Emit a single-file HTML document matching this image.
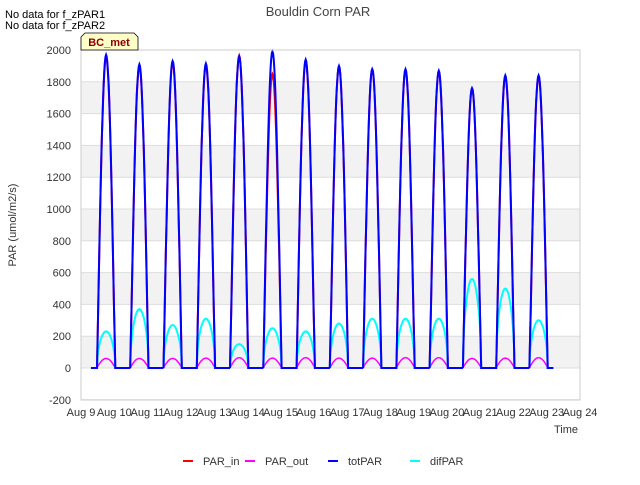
<!DOCTYPE html>
<html><head><meta charset="utf-8"><style>
body{margin:0;background:#fff;font-family:"Liberation Sans",sans-serif}
svg text{font-family:"Liberation Sans",sans-serif}
</style></head><body>
<svg id="c" width="640" height="480" viewBox="0 0 640 480">
<rect width="640" height="480" fill="#fff"/>
<g id="bands"></g><g id="grid"></g><g id="series"></g><g id="axes"></g>
<text x="318" y="16" text-anchor="middle" font-size="13" fill="#444">Bouldin Corn PAR</text>
<text x="5" y="18" font-size="11" fill="#000">No data for f_zPAR1</text>
<text x="5" y="29" font-size="11" fill="#000">No data for f_zPAR2</text>
<g><path d="M81,50 L81,37 L85,33 L134,33 L138,37 L138,50 Z" fill="#ffffc8" stroke="#000" stroke-width="0.8"/>
<text x="109" y="46" text-anchor="middle" font-size="11" font-weight="bold" fill="#8b0000">BC_met</text></g>
<text x="16" y="225" transform="rotate(-90 16 225)" text-anchor="middle" font-size="11" fill="#333">PAR (umol/m2/s)</text>
<text x="578" y="433" text-anchor="end" font-size="11" fill="#333">Time</text>
<g id="legend"></g>
</svg>
<script>
const dayLabels=["Aug 9","Aug 10","Aug 11","Aug 12","Aug 13","Aug 14","Aug 15","Aug 16","Aug 17","Aug 18","Aug 19","Aug 20","Aug 21","Aug 22","Aug 23","Aug 24"];
const yTicks=[-200,0,200,400,600,800,1000,1200,1400,1600,1800,2000];
const totPeaks=[1970,1910,1930,1915,1960,1990,1940,1900,1880,1880,1870,1760,1840,1840];
const inPeaks=[1960,1900,1920,1905,1965,1850,1930,1895,1875,1875,1865,1755,1835,1835];
const outPeaks=[60,60,60,62,65,62,65,62,62,65,65,60,62,65];
const difPeaks=[230,370,270,310,150,250,230,280,310,310,310,560,500,300];
const X0=81,X1=580,Y0=368,YS=(368-50)/2000;
const xs=d=>X0+d*(X1-X0)/15, ys=v=>Y0-v*YS;
const ns="http://www.w3.org/2000/svg";
function mk(t,a,p){const e=document.createElementNS(ns,t);for(const k in a)e.setAttribute(k,a[k]);document.getElementById(p).appendChild(e);return e;}
for(let i=0;i<yTicks.length-1;i++){if(i%2===1){const r=mk('rect',{x:X0,y:ys(yTicks[i+1]),width:X1-X0,height:ys(yTicks[i])-ys(yTicks[i+1]),fill:'#f2f2f2'},'bands');

}}
yTicks.forEach(v=>{const l=mk('line',{x1:X0,x2:X1,y1:ys(v),y2:ys(v),stroke:'#ddd','stroke-width':1},'grid');


const t=mk('text',{x:X0-10,y:ys(v)+4,'text-anchor':'end','font-size':11,fill:'#333'},'axes');t.textContent=v;

});
mk('rect',{x:X0,y:50,width:X1-X0,height:350,fill:'none',stroke:'#ccc'},'axes');
dayLabels.forEach((s,i)=>{const t=mk('text',{x:xs(i),y:416,'text-anchor':'middle','font-size':11,fill:'#333'},'axes');t.textContent=s;

});
function path(peaks,pw){let d=`M${xs(0.3)},${ys(0)}`;
peaks.forEach((p,i)=>{const s=i+0.48,e=i+1.03;d+=` L${xs(s)},${ys(0)}`;
for(let k=0;k<=30;k++){const f=k/30;const v=p*Math.pow(Math.sin(Math.PI*f),pw);d+=` L${xs(s+f*(e-s)).toFixed(1)},${ys(v).toFixed(1)}`;}});
d+=` L${xs(14.2)},${ys(0)}`;return d;}
const ser=[["PAR_in",inPeaks,"#ff0000",1.05,2],["PAR_out",outPeaks,"#ff00ff",0.9,1.5],["difPAR",difPeaks,"#00ffff",0.5,2],["totPAR",totPeaks,"#0000ff",1.05,2]];
ser.forEach(s=>{const p=mk('path',{d:path(s[1],s[3]),fill:'none',stroke:s[2],'stroke-width':s[4]},'series');

});
const leg=[["PAR_in","#ff0000",183],["PAR_out","#ff00ff",245],["totPAR","#0000ff",328],["difPAR","#00ffff",410]];
leg.forEach(l=>{const g=mk('g',{},'legend');


const ln=document.createElementNS(ns,'line');ln.setAttribute('x1',l[2]);ln.setAttribute('x2',l[2]+10);ln.setAttribute('y1',461);ln.setAttribute('y2',461);ln.setAttribute('stroke',l[1]);ln.setAttribute('stroke-width',2);g.appendChild(ln);
const t=document.createElementNS(ns,'text');t.setAttribute('x',l[2]+20);t.setAttribute('y',465);t.setAttribute('font-size',11);t.setAttribute('fill','#333');t.textContent=l[0];g.appendChild(t);});
</script>
</body></html>
